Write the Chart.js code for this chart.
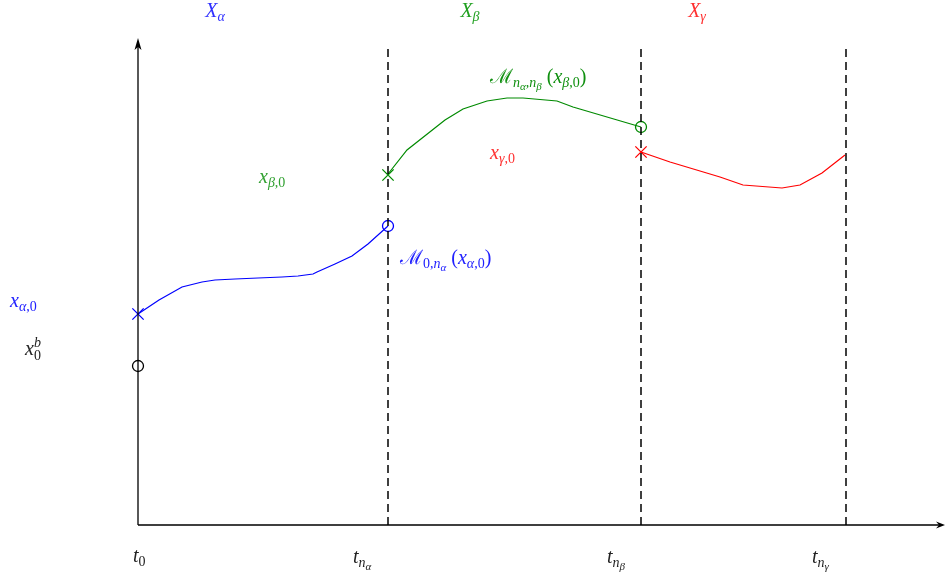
<!DOCTYPE html>
<html>
<head>
<meta charset="utf-8">
<script src="https://cdn.jsdelivr.net/npm/chart.js@4/dist/chart.umd.min.js"></script>
<style>
  html, body { margin: 0; padding: 0; background: #fff; }
  canvas { display: block; }
</style>
</head>
<body>
<canvas id="diagram" width="945" height="574"></canvas>
<script>
// time positions of the window boundaries (t0, t_na, t_nb, t_ng)
const tPos = [0, 250, 503, 708];
const dashTop = 478;
const xMax = 807;
const yMax = 525;
const yAxisTop = 487;

// trajectory alpha (blue)
const alphaX = [0, 21, 44, 64, 77, 97, 120, 144, 160, 175, 179, 197, 214, 230, 250];
const alphaY = [211, 225, 238, 243, 245, 246, 247, 248, 249, 251, 253, 261, 269, 281, 299];

// trajectory beta (green)
const betaX = [250, 269, 307, 325, 349, 369, 385, 419, 435, 503];
const betaY = [351, 375, 405, 416, 424, 427, 427, 424, 418, 398];

// trajectory gamma (red)
const gammaX = [503, 532, 582, 605, 644, 662, 684, 707];
const gammaY = [373, 363, 348, 340, 337, 340, 352, 370];

// marked points
const xbY = 159;          // background x_0^b at t0
const alphaStartY = 211;  // x_alpha,0
const betaStartY = 350;   // x_beta,0
const gammaStartY = 373;  // x_gamma,0

const BLUE = '#0000ff';
const GREEN = '#008a00';
const RED = '#ff0000';

function pts(xs, ys) {
    return xs.map((x, i) => ({ x: x, y: ys[i] }));
}

// text labels: parts are [text, level, italic] ; level 1 = sub, 2 = subsub, -1 = sup, 'b' = stacked sub
const labels = [
    { at: [77, 513], align: 'center', color: '#3030ff', parts: [['X', 0, 1], ['α', 1, 1]] },
    { at: [332, 513], align: 'center', color: '#20a020', parts: [['X', 0, 1], ['β', 1, 1]] },
    { at: [559, 513], align: 'center', color: '#ff3030', parts: [['X', 0, 1], ['γ', 1, 1]] },
    { at: [352, 447], align: 'left', color: '#109010', parts: [['ℳ', 0, 0], ['n', 1, 1], ['α', 2, 1], [',', 1, 0], ['n', 1, 1], ['β', 2, 1], [' (', 0, 0], ['x', 0, 1], ['β', 1, 1], [',0', 1, 0], [')', 0, 0]] },
    { at: [352, 371], align: 'left', color: '#ff3030', parts: [['x', 0, 1], ['γ', 1, 1], [',0', 1, 0]] },
    { at: [121, 347], align: 'left', color: '#30a030', parts: [['x', 0, 1], ['β', 1, 1], [',0', 1, 0]] },
    { at: [262, 266], align: 'left', color: '#2020ff', parts: [['ℳ', 0, 0], ['0,', 1, 0], ['n', 1, 1], ['α', 2, 1], [' (', 0, 0], ['x', 0, 1], ['α', 1, 1], [',0', 1, 0], [')', 0, 0]] },
    { at: [-128, 223], align: 'left', color: '#2020ff', parts: [['x', 0, 1], ['α', 1, 1], [',0', 1, 0]] },
    { at: [-113, 175], align: 'left', color: '#222', parts: [['x', 0, 1], ['b', -1, 1], ['0', 'b', 0]] },
    { at: [-5, -32], align: 'left', color: '#222', parts: [['t', 0, 1], ['0', 1, 0]] },
    { at: [215, -33], align: 'left', color: '#222', parts: [['t', 0, 1], ['n', 1, 1], ['α', 2, 1]] },
    { at: [469, -33], align: 'left', color: '#222', parts: [['t', 0, 1], ['n', 1, 1], ['β', 2, 1]] },
    { at: [674, -33], align: 'left', color: '#222', parts: [['t', 0, 1], ['n', 1, 1], ['γ', 2, 1]] }
];

const levelStyle = {
    0: { size: 20, dy: 0 },
    1: { size: 14, dy: 4 },
    2: { size: 11, dy: 7 },
    '-1': { size: 14, dy: -8 },
    b: { size: 14, dy: 5 }
};

function fontFor(level, italic) {
    const s = levelStyle[level];
    return (italic ? 'italic ' : '') + s.size + 'px "Liberation Serif", "DejaVu Serif", serif';
}

function drawRich(ctx, label, px, py) {
    let width = 0;
    label.parts.forEach(p => {
        ctx.font = fontFor(p[1], p[2]);
        if (p[1] !== 'b') width += ctx.measureText(p[0]).width;
    });
    let x = label.align === 'center' ? px - width / 2 : px;
    let lastX = x;
    ctx.fillStyle = label.color;
    ctx.textBaseline = 'alphabetic';
    ctx.textAlign = 'left';
    label.parts.forEach(p => {
        ctx.font = fontFor(p[1], p[2]);
        const w = ctx.measureText(p[0]).width;
        const sx = p[1] === 'b' ? lastX : x;
        ctx.fillText(p[0], sx, py + 5 + levelStyle[p[1]].dy);
        if (p[1] !== 'b') { lastX = x; x += w; }
    });
}

const diagramPlugin = {
    id: 'diagram',
    afterDatasetsDraw(chart) {
        const ctx = chart.ctx;
        const xs = chart.scales.x;
        const ys = chart.scales.y;
        const x0 = xs.getPixelForValue(0);
        const y0 = ys.getPixelForValue(0);
        const xEnd = xs.getPixelForValue(xMax);
        const yTop = ys.getPixelForValue(yAxisTop);
        ctx.save();
        ctx.strokeStyle = '#000';
        ctx.fillStyle = '#000';
        ctx.lineWidth = 1.3;
        ctx.beginPath();
        ctx.moveTo(x0, y0);
        ctx.lineTo(xEnd - 4, y0);
        ctx.moveTo(x0, y0);
        ctx.lineTo(x0, yTop + 4);
        ctx.stroke();
        // arrow heads
        ctx.beginPath();
        ctx.moveTo(x0, yTop);
        ctx.lineTo(x0 - 3.5, yTop + 12);
        ctx.lineTo(x0, yTop + 9);
        ctx.lineTo(x0 + 3.5, yTop + 12);
        ctx.closePath();
        ctx.fill();
        ctx.beginPath();
        ctx.moveTo(xEnd, y0);
        ctx.lineTo(xEnd - 9, y0 - 3.5);
        ctx.lineTo(xEnd - 6, y0);
        ctx.lineTo(xEnd - 9, y0 + 3.5);
        ctx.closePath();
        ctx.fill();
        labels.forEach(l => drawRich(ctx, l, xs.getPixelForValue(l.at[0]), ys.getPixelForValue(l.at[1])));
        ctx.restore();
    }
};

const lineDefaults = { borderWidth: 1.2, pointRadius: 0, fill: false, tension: 0, clip: false };
const dashSets = tPos.slice(1).map(t => Object.assign({}, lineDefaults, {
    data: [{ x: t, y: 0 }, { x: t, y: dashTop }],
    borderColor: '#000',
    borderWidth: 1.5,
    borderDash: [8, 5]
}));

function marker(x, y, color, style) {
    return {
        data: [{ x: x, y: y }],
        showLine: false,
        pointStyle: style,
        pointRadius: style === 'circle' ? 5.5 : 8,
        pointBorderColor: color,
        pointBackgroundColor: 'rgba(0,0,0,0)',
        pointBorderWidth: 1.3,
        clip: false
    };
}

new Chart(document.getElementById('diagram').getContext('2d'), {
    type: 'line',
    data: {
        datasets: [
            ...dashSets,
            Object.assign({}, lineDefaults, { data: pts(alphaX, alphaY), borderColor: BLUE }),
            Object.assign({}, lineDefaults, { data: pts(betaX, betaY), borderColor: GREEN }),
            Object.assign({}, lineDefaults, { data: pts(gammaX, gammaY), borderColor: RED }),
            marker(0, alphaStartY, BLUE, 'crossRot'),
            marker(0, xbY, '#000', 'circle'),
            marker(tPos[1], alphaY[alphaY.length - 1], BLUE, 'circle'),
            marker(tPos[1], betaStartY, GREEN, 'crossRot'),
            marker(tPos[2], betaY[betaY.length - 1], GREEN, 'circle'),
            marker(tPos[2], gammaStartY, RED, 'crossRot')
        ]
    },
    options: {
        responsive: false,
        animation: false,
        layout: { autoPadding: false, padding: { left: 138, right: 0, top: 0, bottom: 49 } },
        plugins: { legend: { display: false }, tooltip: { enabled: false } },
        scales: {
            x: { type: 'linear', min: 0, max: xMax, display: false },
            y: { type: 'linear', min: 0, max: yMax, display: false }
        }
    },
    plugins: [diagramPlugin]
});
</script>
</body>
</html>
